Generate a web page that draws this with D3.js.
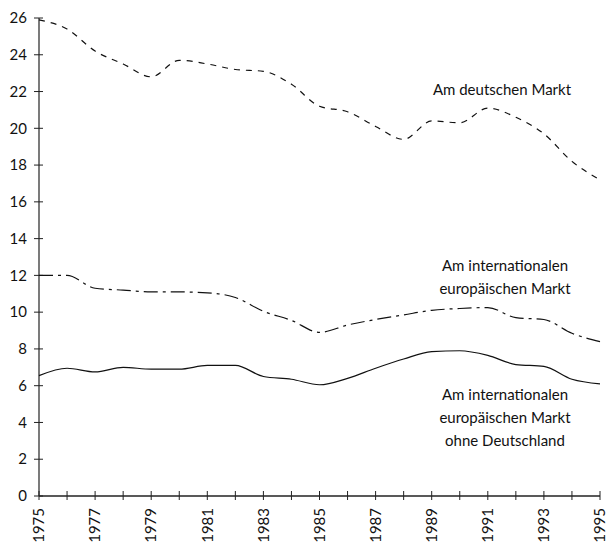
<!DOCTYPE html>
<html>
<head>
<meta charset="utf-8">
<title>Marktanteile</title>
<script src="https://cdn.jsdelivr.net/npm/d3@7"></script>
<style>
  body { margin: 0; background: #fff; }
  text { font-family: Lato, "Noto Sans", sans-serif; fill: #111; }
</style>
</head>
<body>
<script>
// Jahre
var years = d3.range(1975, 1996);

// Am deutschen Markt
var deutsch = [25.9, 25.4, 24.2, 23.5, 22.8, 23.7, 23.5, 23.2, 23.1, 22.4, 21.2,
               20.9, 20.1, 19.4, 20.4, 20.3, 21.1, 20.6, 19.7, 18.2, 17.2];
// Am internationalen europäischen Markt
var europa = [12.0, 12.0, 11.3, 11.2, 11.1, 11.1, 11.05, 10.8, 10.05, 9.55, 8.9,
              9.3, 9.6, 9.85, 10.1, 10.2, 10.25, 9.7, 9.6, 8.85, 8.4];
// ohne Deutschland
var ohneDE = [6.55, 6.95, 6.75, 7.0, 6.9, 6.9, 7.1, 7.1, 6.5, 6.35, 6.05,
              6.4, 6.95, 7.45, 7.85, 7.9, 7.65, 7.15, 7.05, 6.35, 6.1];

var yTicks = d3.range(0, 27, 2);
var xLabels = d3.range(1975, 1996, 2);

var svg = d3.select('body').append('svg')
  .attr('width', 607)
  .attr('height', 548);

var x = d3.scaleLinear().domain([1975, 1995]).range([39, 600]);
var y = d3.scaleLinear().domain([0, 26]).range([496, 18]);

// Achsen
var yAxis = svg.append('g').attr('transform', 'translate(39,0)');
yAxis.append('line')
  .attr('y1', y(26)).attr('y2', y(0))
  .attr('stroke', '#333').attr('stroke-width', 1.3);
yTicks.forEach(function(t) {
  yAxis.append('line')
    .attr('x1', -5).attr('x2', 4)
    .attr('y1', y(t)).attr('y2', y(t))
    .attr('stroke', '#222');
  yAxis.append('text')
    .attr('x', -12).attr('y', y(t))
    .attr('dy', '0.35em')
    .attr('text-anchor', 'end')
    .style('font-size', '15px')
    .text(t);
});

var xAxis = svg.append('g').attr('transform', 'translate(0,' + y(0) + ')');
xAxis.append('line')
  .attr('x1', x(1975)).attr('x2', x(1995))
  .attr('stroke', '#222').attr('stroke-width', 1.3);
years.forEach(function(yr) {
  xAxis.append('line')
    .attr('x1', x(yr)).attr('x2', x(yr))
    .attr('y1', -5).attr('y2', 4)
    .attr('stroke', '#222');
});
xLabels.forEach(function(yr) {
  xAxis.append('text')
    .attr('transform', 'translate(' + x(yr) + ',12) rotate(-90)')
    .attr('dy', '0.35em')
    .attr('text-anchor', 'end')
    .style('font-size', '15px')
    .text(yr);
});

// Linien
var line = d3.line()
  .x(function(d, i) { return x(years[i]); })
  .y(function(d) { return y(d); })
  .curve(d3.curveMonotoneX);

svg.append('path')
  .attr('d', line(deutsch))
  .attr('fill', 'none')
  .attr('stroke', '#111')
  .attr('stroke-width', 1.2)
  .attr('stroke-dasharray', '6,6');

svg.append('path')
  .attr('d', line(europa))
  .attr('fill', 'none')
  .attr('stroke', '#111')
  .attr('stroke-width', 1.2)
  .attr('stroke-dasharray', '14,5,3,5');

svg.append('path')
  .attr('d', line(ohneDE))
  .attr('fill', 'none')
  .attr('stroke', '#111')
  .attr('stroke-width', 1.2);

// Beschriftungen
function label(lines, cx, base) {
  lines.forEach(function(t, i) {
    svg.append('text')
      .attr('x', cx).attr('y', base + i * 23)
      .attr('text-anchor', 'middle')
      .style('font-size', '15px')
      .text(t);
  });
}
label(['Am deutschen Markt'], 502, 95);
label(['Am internationalen', 'europäischen Markt'], 505, 271);
label(['Am internationalen', 'europäischen Markt', 'ohne Deutschland'], 505, 400);
</script>
</body>
</html>
